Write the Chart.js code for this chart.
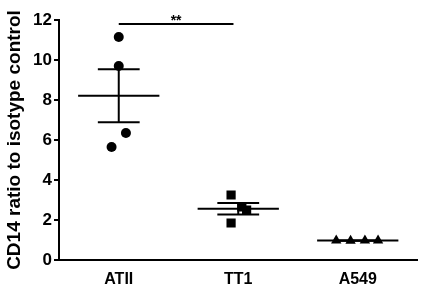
<!DOCTYPE html>
<html>
<head>
<meta charset="utf-8">
<script src="https://cdn.jsdelivr.net/npm/chart.js@4.4.1/dist/chart.umd.min.js"></script>
<style>
  html, body { margin: 0; padding: 0; background: #fff; }
</style>
</head>
<body>
<canvas id="dotPlot" width="424" height="289"></canvas>
<script>
const groups = ["ATII", "TT1", "A549"];
const atiiValues = [11.15, 9.7, 6.35, 5.65];
const tt1Values = [3.25, 1.85, 2.65, 2.5];
const a549Values = [0.98, 0.96, 0.98, 0.97];
// horizontal spread of the dots inside each group
const atiiSpread = [0, 0, 0.06, -0.06];
const tt1Spread = [-0.06, -0.06, 0.03, 0.07];
const a549Spread = [-0.18, -0.06, 0.06, 0.17];
const yTicks = [0, 2, 4, 6, 8, 10, 12];
const sigLabel = "**";
const sigLevel = 11.8;

const groupValues = [atiiValues, tt1Values, a549Values];
const groupSpread = [atiiSpread, tt1Spread, a549Spread];
const pointStyles = ["circle", "rect", "triangle"];
const pointSizes = [5, 6.5, 6];

function mean(arr) {
  return arr.reduce((a, b) => a + b, 0) / arr.length;
}
function sem(arr) {
  const m = mean(arr);
  const ss = arr.reduce((a, b) => a + (b - m) * (b - m), 0);
  return Math.sqrt(ss / (arr.length - 1)) / Math.sqrt(arr.length);
}

// mean +/- SEM bars and the significance bracket
const summaryPlugin = {
  id: "summary",
  beforeDatasetsDraw(chart) {
    const { ctx, scales: { x, y } } = chart;
    ctx.save();
    ctx.strokeStyle = "#000";
    ctx.lineWidth = 2;
    const hline = (cx, v, half) => {
      ctx.beginPath();
      ctx.moveTo(x.getPixelForValue(cx - half), y.getPixelForValue(v));
      ctx.lineTo(x.getPixelForValue(cx + half), y.getPixelForValue(v));
      ctx.stroke();
    };
    groupValues.forEach((vals, i) => {
      const m = mean(vals);
      const s = sem(vals);
      hline(i, m, 0.34);
      hline(i, m + s, 0.175);
      hline(i, m - s, 0.175);
      ctx.beginPath();
      ctx.moveTo(x.getPixelForValue(i), y.getPixelForValue(m + s));
      ctx.lineTo(x.getPixelForValue(i), y.getPixelForValue(m - s));
      ctx.stroke();
    });
    // ATII vs TT1
    ctx.beginPath();
    ctx.moveTo(x.getPixelForValue(0), y.getPixelForValue(sigLevel));
    ctx.lineTo(x.getPixelForValue(0.96), y.getPixelForValue(sigLevel));
    ctx.stroke();
    ctx.fillStyle = "#000";
    ctx.font = "bold 14px 'Liberation Sans', Arial, sans-serif";
    ctx.textAlign = "center";
    ctx.textBaseline = "bottom";
    ctx.fillText(sigLabel, x.getPixelForValue(0.48), y.getPixelForValue(sigLevel) + 4);
    ctx.restore();
  }
};

const datasets = groupValues.map((vals, i) => ({
  label: groups[i],
  data: vals.map((v, k) => ({ x: i + groupSpread[i][k], y: v })),
  pointStyle: pointStyles[i],
  pointRadius: pointSizes[i],
  pointHoverRadius: pointSizes[i],
  backgroundColor: "#000",
  borderColor: "#000",
  borderWidth: 0
}));

const ctx = document.getElementById("dotPlot").getContext("2d");
const dotPlot = new Chart(ctx, {
  type: "scatter",
  data: { datasets: datasets },
  options: {
    responsive: false,
    animation: false,
    devicePixelRatio: 1,
    layout: { padding: { top: 20, right: 6, left: 0, bottom: 0 } },
    plugins: { legend: { display: false }, tooltip: { enabled: false } },
    scales: {
      x: {
        type: "linear",
        min: -0.5,
        max: 2.5,
        afterBuildTicks: (scale) => { scale.ticks = groups.map((g, i) => ({ value: i })); },
        afterFit: (scale) => { scale.height = 29; },
        grid: { display: false },
        border: { display: true, color: "#000", width: 2 },
        ticks: {
          callback: (v) => groups[v],
          color: "#000",
          padding: 2,
          maxRotation: 0,
          font: { family: "'Liberation Sans', Arial, sans-serif", size: 16, weight: "bold" }
        }
      },
      y: {
        min: 0,
        max: 12,
        afterBuildTicks: (scale) => { scale.ticks = yTicks.map((v) => ({ value: v })); },
        afterFit: (scale) => { scale.width = 59; },
        grid: { drawOnChartArea: false, drawTicks: true, tickLength: 5, color: "#000", lineWidth: 2 },
        border: { display: true, color: "#000", width: 2 },
        ticks: {
          color: "#000",
          padding: 2,
          font: { family: "'Liberation Sans', Arial, sans-serif", size: 17, weight: "bold" }
        },
        title: {
          display: true,
          text: "CD14 ratio to isotype control",
          color: "#000",
          padding: { top: 3, bottom: 0 },
          font: { family: "'Liberation Sans', Arial, sans-serif", size: 19, weight: "bold" }
        }
      }
    }
  },
  plugins: [summaryPlugin]
});
</script>
</body>
</html>
